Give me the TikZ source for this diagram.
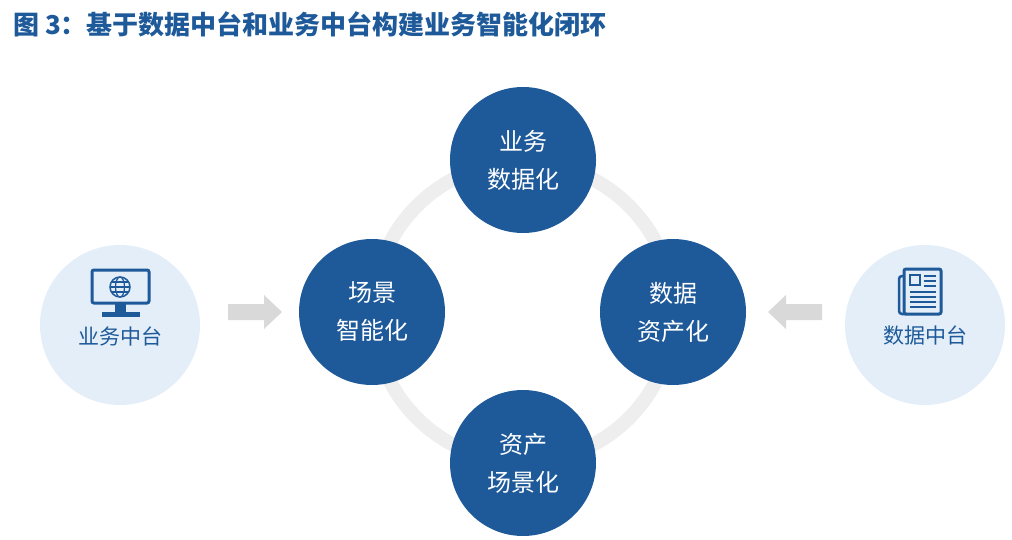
\documentclass[tikz,border=0pt]{standalone}
\usepackage{fontspec}
\newfontfamily\cjk{Noto Sans CJK SC}
\definecolor{dblue}{HTML}{1E5A9A}
\definecolor{lblue}{HTML}{E3EEF8}
\definecolor{ring}{HTML}{EEEEEE}
\definecolor{arr}{HTML}{D9D9D9}
\begin{document}
\begin{tikzpicture}[x=1pt,y=-1pt,
  main/.style={circle,fill=dblue,text=white,minimum size=146pt,inner sep=0pt,align=center,font=\cjk\fontsize{24}{38}\selectfont},
  side/.style={circle,fill=lblue,minimum size=160pt,inner sep=0pt},
  lbl/.style={text=dblue,font=\cjk\fontsize{21}{24}\selectfont},
  ico/.style={draw=dblue,line width=3pt}]
\useasboundingbox (0,0) rectangle (1012,540);
\node[anchor=west,text=dblue,font=\cjk\bfseries\fontsize{26}{28}\selectfont,inner sep=0pt] (title) at (13,24) {图 3：基于数据中台和业务中台构建业务智能化闭环};
\draw[ring,line width=14pt] (523,312) circle (150);
\node[main] (top) at (523,160) {业务\\数据化};
\node[main] (left) at (372,312) {场景\\智能化};
\node[main] (right) at (673,312) {数据\\资产化};
\node[main] (bot) at (523,463) {资产\\场景化};
\node[side] (bz) at (120,325) {};
\node[side] (sj) at (925,325) {};
\node[lbl] (bzt) at (120,336) {业务中台};
\node[lbl] (sjt) at (925,336) {数据中台};
% monitor icon
\draw[ico,rounded corners=2pt] (92,270) rectangle (149,303);
\fill[dblue] (115,303) rectangle (126,313);
\fill[dblue] (102,312) rectangle (140,317);
\draw[dblue,line width=1.5pt] (120,287) circle (10);
\draw[dblue,line width=1.2pt] (120,287) ellipse (4.5 and 10);
\draw[dblue,line width=1.2pt] (110,287) -- (130,287) (112,282) -- (128,282) (112,292) -- (128,292);
% newspaper icon
\draw[ico,rounded corners=2pt] (904,269) rectangle (941,314);
\draw[dblue,line width=2.5pt,rounded corners=3pt] (904,276) -- (899,276) -- (899,314) -- (906,314);
\draw[dblue,line width=2pt] (910,275) rectangle (920,285);
\foreach \y in {276,281,286}{\draw[dblue,line width=2pt] (924,\y) -- (936,\y);}
\foreach \y in {292,297,302,307}{\draw[dblue,line width=2pt] (910,\y) -- (936,\y);}
% arrows
\coordinate (la) at (228,312);
\coordinate (ra) at (822,312);
\fill[arr] (la) ++(0,-8) -- ++(36,0) -- ++(0,-9) -- (282,312) -- (264,329) -- ++(0,-9) -- (228,320) -- cycle;
\fill[arr] (ra) ++(0,-8) -- ++(-36,0) -- ++(0,-9) -- (768,312) -- (786,329) -- ++(0,-9) -- (822,320) -- cycle;
\end{tikzpicture}
\end{document}
